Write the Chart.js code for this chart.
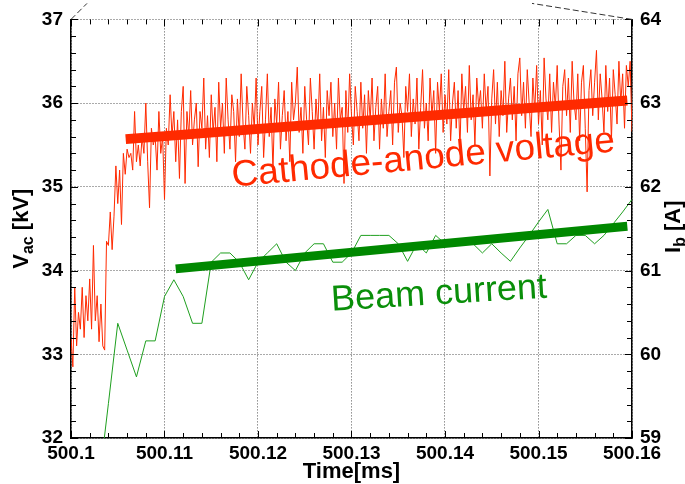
<!DOCTYPE html>
<html>
<head>
<meta charset="utf-8">
<script src="https://cdn.jsdelivr.net/npm/chart.js@4.4.1/dist/chart.umd.min.js"></script>
<style>
  html, body { margin: 0; padding: 0; background: #fff; }
  canvas { display: block; }
</style>
</head>
<body>
<canvas id="chart" width="685" height="484"></canvas>
<script>
// Cathode-anode voltage (kV), one sample every 0.0002 ms from 500.1 ms
var vacStart = 500.1;
var vacStep = 0.0002;
var vac = [
  33.2, 32.85, 33.8, 33.1, 33.5, 33.3, 33.8, 33.2, 33.7, 33.4,
  33.9, 33.3, 34.3, 33.4, 33.7, 33.15, 33.6, 33.1, 33.05, 34.35,
  34.3, 34.7, 34.25, 34.65, 35.25, 34.8, 35.2, 34.55, 35.4, 35.15,
  35.45, 35.35, 35.4, 35.2, 35.9, 35.3, 35.5, 35.25, 35.6, 35.4,
  36.0, 35.3, 34.75, 35.7, 35.5, 35.6, 35.2, 35.9, 35.4, 35.6,
  34.85, 35.7, 35.5, 36.1, 35.6, 35.9, 35.3, 35.8, 35.1, 35.9,
  36.2, 35.04, 35.9, 35.6, 36.15, 35.5, 35.8, 36.0, 35.24, 35.9,
  35.7, 36.3, 35.45, 35.85, 35.35, 36.1, 35.65, 35.95, 35.3, 36.25,
  35.7, 36.0, 35.4, 36.3, 35.8, 35.45, 36.1, 35.9, 35.3, 36.05,
  35.6, 36.35, 35.75, 35.45, 36.2, 35.85, 35.4, 36.0, 35.7, 36.3,
  35.5, 35.9, 36.2, 35.35, 35.8, 36.35, 35.6, 35.95, 35.2, 36.05,
  35.75, 36.25, 35.45, 35.85, 36.15, 35.55, 35.9, 35.3, 36.25, 35.8,
  36.0, 36.43, 35.65, 35.95, 35.4, 36.2, 35.8, 35.5, 36.3, 35.9,
  35.45, 36.05, 35.7, 36.35, 35.55, 35.95, 35.35, 36.15, 35.85, 36.25,
  35.6, 36.0, 35.45, 36.3, 35.8, 35.95, 35.04, 36.15, 35.65, 36.35,
  35.85, 35.5, 36.2, 35.9, 35.55, 36.25, 35.7, 36.1, 35.4, 36.15,
  35.8, 36.3, 35.55, 35.95, 36.2, 35.45, 36.05, 35.7, 36.35, 35.6,
  35.9, 36.15, 35.5, 36.25, 36.43, 35.65, 36.0, 35.85, 35.35, 36.2,
  35.9, 36.35, 35.6, 36.05, 35.75, 36.3, 35.45, 35.95, 36.4, 35.7,
  36.0, 35.55, 36.3, 35.85, 36.15, 35.4, 36.25, 35.9, 36.35, 35.65,
  36.1, 35.75, 36.4, 35.55, 36.0, 36.25, 35.7, 36.15, 35.45, 36.35,
  35.9, 36.2, 35.65, 36.45, 35.8, 36.1, 35.5, 36.3, 35.95, 36.15,
  35.7, 36.35, 35.9, 36.2, 35.13, 36.05, 36.4, 35.75, 36.25, 35.6,
  36.15, 35.85, 36.5, 35.65, 36.05, 36.3, 35.8, 36.2, 35.55, 36.35,
  36.54, 35.85, 36.25, 35.7, 36.4, 36.0, 35.6, 36.3, 35.9, 36.45,
  35.75, 36.15, 35.5, 36.54, 36.05, 35.8, 36.35, 35.65, 36.25, 35.95,
  36.45, 35.75, 35.2, 36.2, 36.4, 35.85, 36.3, 35.65, 36.5, 36.0,
  35.8, 36.35, 35.55, 36.25, 36.45, 35.7, 34.94, 36.15, 36.4, 35.85,
  36.25, 36.63, 35.8, 36.35, 36.05, 35.65, 36.45, 35.9, 36.3, 35.55,
  36.4, 36.1, 35.75, 36.5, 36.0, 36.35, 35.7, 36.45, 36.2, 36.5,
  35.66
];

// Beam current (A), one sample every 0.001 ms from 500.1 ms
var ibStart = 500.1;
var ibStep = 0.001;
var ib = [
  58.0, 58.2, 58.3, 58.47, 59.41, 60.37, 60.05, 59.73, 60.16, 60.16,
  60.69, 60.89, 60.69, 60.37, 60.37, 61.10, 61.21, 61.21, 61.10, 60.89,
  61.10, 61.21, 61.32, 61.10, 61.00, 61.21, 61.32, 61.32, 61.10, 61.10,
  61.21, 61.42, 61.42, 61.42, 61.42, 61.32, 61.11, 61.32, 61.21, 61.42,
  61.32, 61.35, 61.38, 61.32, 61.21, 61.32, 61.21, 61.11, 61.27, 61.42,
  61.58, 61.73, 61.32, 61.32, 61.42, 61.42, 61.32, 61.42, 61.56, 61.70,
  61.85
];

// fitted trend lines (start / end)
var vacFitTime = [500.10585, 500.1595];
var vacFit = [35.57, 36.03];
var ibFitTime = [500.1112, 500.1595];
var ibFit = [61.02, 61.53];

var xTicks = [500.1, 500.11, 500.12, 500.13, 500.14, 500.15, 500.16];

var RED = '#ff2a00';
var GREEN = '#0a8f0a';
var FONT = "'Liberation Sans Narrow', 'Liberation Sans', Arial, sans-serif";
var TEXT_FONT = "'Liberation Sans', Arial, sans-serif";

function series(start, step, vals) {
  return vals.map(function (v, i) { return { x: start + i * step, y: v }; });
}
function pairs(xs, ys) {
  return xs.map(function (x, i) { return { x: x, y: ys[i] }; });
}

// inward minor/major ticks on all four sides, dashed zoom lines, annotations, axis titles
var decor = {
  id: 'decor',
  afterDraw: function (chart) {
    var ctx = chart.ctx, a = chart.chartArea;
    var x = chart.scales.x, y = chart.scales.y, y2 = chart.scales.y2;
    ctx.save();
    ctx.strokeStyle = '#000';
    ctx.lineWidth = 1;
    ctx.beginPath();
    var i, p, len;
    for (i = 0; i <= 30; i++) {
      p = Math.round(x.getPixelForValue(500.1 + i * 0.002)) + 0.5;
      len = i % 5 === 0 ? 7 : 5;
      ctx.moveTo(p, a.bottom); ctx.lineTo(p, a.bottom - len);
      ctx.moveTo(p, a.top); ctx.lineTo(p, a.top + len);
    }
    for (i = 0; i <= 25; i++) {
      len = i % 5 === 0 ? 7 : 5;
      p = Math.round(y.getPixelForValue(32 + i * 0.2)) + 0.5;
      ctx.moveTo(a.left, p); ctx.lineTo(a.left + len, p);
      p = Math.round(y2.getPixelForValue(59 + i * 0.2)) + 0.5;
      ctx.moveTo(a.right, p); ctx.lineTo(a.right - len, p);
    }
    ctx.stroke();

    // dashed lines to the zoomed region above
    ctx.strokeStyle = '#333';
    ctx.setLineDash([6, 3]);
    ctx.beginPath();
    ctx.moveTo(a.left, a.top); ctx.lineTo(a.left + 16, a.top - 16);
    ctx.moveTo(a.right, a.top); ctx.lineTo(a.right - 100, a.top - 16);
    ctx.stroke();
    ctx.setLineDash([]);

    // annotations
    ctx.textAlign = 'left';
    ctx.textBaseline = 'alphabetic';
    ctx.save();
    ctx.translate(x.getPixelForValue(500.1173), y.getPixelForValue(35.0));
    ctx.rotate(-5.3 * Math.PI / 180);
    ctx.fillStyle = RED;
    ctx.font = '37px ' + TEXT_FONT;
    ctx.fillText('Cathode-anode voltage', 0, 0);
    ctx.restore();

    ctx.save();
    ctx.translate(x.getPixelForValue(500.1279), y2.getPixelForValue(60.52));
    ctx.rotate(-3.5 * Math.PI / 180);
    ctx.fillStyle = GREEN;
    ctx.font = '36px ' + TEXT_FONT;
    ctx.fillText('Beam current', 0, 0);
    ctx.restore();

    // axis titles
    ctx.fillStyle = '#000';
    ctx.font = 'bold 22px ' + FONT;
    ctx.textAlign = 'center';
    ctx.fillText('Time[ms]', (a.left + a.right) / 2, 478);

    drawSub(ctx, ['V', 'ac', ' [kV]'], 28, (a.top + a.bottom) / 2);
    drawSub(ctx, ['I', 'b', ' [A]'], 680, (a.top + a.bottom) / 2 - 2);
    ctx.restore();
  }
};

// rotated (-90deg) title with a subscript part
function drawSub(ctx, parts, cx, cy) {
  var big = 'bold 22px ' + FONT, small = 'bold 16px ' + FONT;
  ctx.save();
  ctx.font = big; var w0 = ctx.measureText(parts[0]).width;
  ctx.font = small; var w1 = ctx.measureText(parts[1]).width;
  ctx.font = big; var w2 = ctx.measureText(parts[2]).width;
  var total = w0 + w1 + w2;
  ctx.translate(cx, cy);
  ctx.rotate(-Math.PI / 2);
  ctx.textAlign = 'left';
  ctx.fillStyle = '#000';
  var s = -total / 2;
  ctx.font = big; ctx.fillText(parts[0], s, 0);
  ctx.font = small; ctx.fillText(parts[1], s + w0, 5);
  ctx.font = big; ctx.fillText(parts[2], s + w0 + w1, 0);
  ctx.restore();
}

var tickFont = { family: FONT, size: 19, weight: 'bold' };

new Chart(document.getElementById('chart').getContext('2d'), {
  type: 'line',
  data: {
    datasets: [{
      label: 'Cathode-anode voltage fit',
      data: pairs(vacFitTime, vacFit),
      borderColor: RED,
      borderWidth: 10,
      pointRadius: 0,
      yAxisID: 'y',
      order: 0
    }, {
      label: 'Cathode-anode voltage',
      data: series(vacStart, vacStep, vac),
      borderColor: RED,
      borderWidth: 1,
      pointRadius: 0,
      yAxisID: 'y',
      order: 1
    }, {
      label: 'Beam current fit',
      data: pairs(ibFitTime, ibFit),
      borderColor: '#008800',
      borderWidth: 9,
      pointRadius: 0,
      yAxisID: 'y2',
      order: 2
    }, {
      label: 'Beam current',
      data: series(ibStart, ibStep, ib),
      borderColor: '#1f9f1f',
      borderWidth: 1,
      pointRadius: 0,
      yAxisID: 'y2',
      order: 3
    }]
  },
  options: {
    responsive: false,
    animation: false,
    layout: { padding: { top: 15, left: 0, right: 0, bottom: 0 } },
    plugins: { legend: { display: false }, tooltip: { enabled: false } },
    elements: { line: { tension: 0, borderCapStyle: 'butt' } },
    scales: {
      x: {
        type: 'linear',
        min: 500.1,
        max: 500.16,
        afterBuildTicks: function (s) { s.ticks = xTicks.map(function (v) { return { value: v }; }); },
        ticks: {
          callback: function (v) { return Number(v.toFixed(2)).toString(); },
          font: tickFont, color: '#000', padding: 4, maxRotation: 0, autoSkip: false
        },
        grid: { color: '#555', lineWidth: 1, drawTicks: false },
        border: { display: true, color: '#000', width: 1.5, dash: [1, 2] },
        afterFit: function (s) { s.height = 46; }
      },
      y: {
        position: 'left',
        min: 32,
        max: 37,
        ticks: { stepSize: 1, font: tickFont, color: '#000', padding: 8 },
        grid: { color: '#555', lineWidth: 1, drawTicks: false },
        border: { display: true, color: '#000', width: 1.5, dash: [1, 2] },
        afterFit: function (s) { s.width = 71; }
      },
      y2: {
        position: 'right',
        min: 59,
        max: 64,
        ticks: { stepSize: 1, font: tickFont, color: '#000', padding: 8 },
        grid: { drawOnChartArea: false, drawTicks: false },
        border: { display: true, color: '#000', width: 1.5 },
        afterFit: function (s) { s.width = 53; }
      }
    }
  },
  plugins: [decor]
});
</script>
</body>
</html>
